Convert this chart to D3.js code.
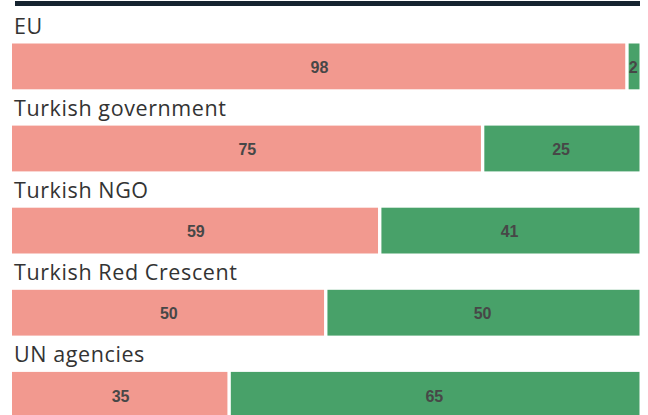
<!DOCTYPE html>
<html>
<head>
<meta charset="utf-8">
<script src="https://cdn.jsdelivr.net/npm/d3@7"></script>
<style>
  body { margin: 0; background: #fff; }
  svg { display: block; }
</style>
</head>
<body>
<div id="chart"></div>
<script>
// data (shares in %, labels are rounded)
var categories = ["EU", "Turkish government", "Turkish NGO", "Turkish Red Crescent", "UN agencies"];
var first = [98, 75, 58.6, 50, 34.6];
var second = [2, 25, 41.4, 50, 65.4];

var W = 648, H = 415;
var left = 12, right = 639.5;
var bandTop = 43.5, step = 82.1, barH = 45.8;

var svg = d3.select("#chart").append("svg")
    .attr("width", W)
    .attr("height", H);

// top rule
svg.append("rect")
    .attr("x", 15)
    .attr("y", 1)
    .attr("width", 625)
    .attr("height", 5)
    .attr("fill", "#15232f");

var x = d3.scaleLinear().domain([0, 100]).range([left, right]);
var y = d3.scaleLinear().domain([0, 1]).range([bandTop, bandTop + step]);

var color = d3.scaleOrdinal()
    .domain(["first", "second"])
    .range(["#f2998f", "#48a169"]);

var gap = 1.7;

var rows = svg.selectAll(".row")
    .data(categories)
    .enter().append("g")
      .attr("class", "row")
      .attr("transform", function(d, i) { return "translate(0," + y(i) + ")"; });

rows.append("text")
    .attr("x", 14)
    .attr("y", -10)
    .text(function(d) { return d; })
    .style("font-family", "'Open Sans', Lato, sans-serif")
    .style("font-size", "21.5px")
    .style("letter-spacing", "0.6px")
    .style("fill", "#333");

// pink segment
rows.append("rect")
    .attr("x", x(0))
    .attr("y", 0)
    .attr("width", function(d, i) { return x(first[i]) - x(0) - gap; })
    .attr("height", barH)
    .attr("fill", color("first"));

// green segment
rows.append("rect")
    .attr("x", function(d, i) { return x(first[i]) + gap; })
    .attr("y", 0)
    .attr("width", function(d, i) { return x(100) - x(first[i]) - gap; })
    .attr("height", barH)
    .attr("fill", color("second"));

function label(sel, xf, tf) {
  sel.append("text")
      .attr("x", xf)
      .attr("y", barH / 2 + 1)
      .attr("dy", "0.36em")
      .attr("text-anchor", "middle")
      .text(tf)
      .style("font-family", "'Liberation Sans', Arial, sans-serif")
      .style("font-weight", "bold")
      .style("font-size", "16px")
      .style("fill", "#474747");
}

label(rows, function(d, i) { return (x(0) + x(first[i])) / 2; }, function(d, i) { return Math.round(first[i]); });
label(rows, function(d, i) { return (x(first[i]) + x(100)) / 2; }, function(d, i) { return Math.round(second[i]); });
</script>
</body>
</html>
